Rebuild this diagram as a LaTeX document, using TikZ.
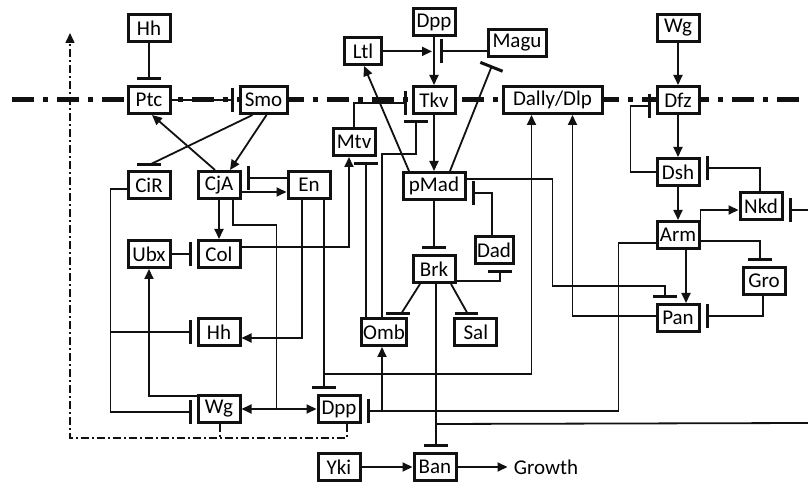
\documentclass[tikz,border=0pt]{standalone}
\usepackage{fontspec}
\setmainfont{Carlito}
\usepackage{tikz}
\usetikzlibrary{positioning,arrows.meta,calc}
\definecolor{ink}{HTML}{111111}
\tikzset{
  gene/.style={draw=ink, fill=white, line width=1.5pt, inner xsep=1pt, inner ysep=1pt,
               minimum width=21pt, minimum height=13.5pt, font=\fontsize{10.5}{12}\selectfont},
  outp/.style={font=\fontsize{10.5}{12}\selectfont, inner sep=3pt},
  act/.style={-{Triangle[length=5pt,width=4.5pt]}, line width=0.9pt, color=ink},
  inh/.style={-{Bar[width=12pt,line width=1.5pt]}, line width=0.9pt, color=ink, shorten >=2.5pt},
  lnk/.style={line width=0.9pt, color=ink},
  tbar/.style={line width=1.5pt, color=ink},
  memb/.style={line width=2.5pt, color=ink, dash pattern=on 11pt off 4.5pt on 2.5pt off 4.5pt},
  fbk/.style={line width=0.7pt, color=ink, dash pattern=on 4pt off 1.5pt on 1pt off 1.5pt},
}

\begin{document}
\begin{tikzpicture}[x=0.5pt, y=-0.5pt]
\path[fill=white] (0,0) rectangle (808,485);
\useasboundingbox (0,0) rectangle (808,485);

% --- membrane ---
\coordinate (membW) at (12,100);
\coordinate (membE) at (808,100);
\draw[memb] (membW) -- (membE);

% --- Hh / Ci side ---
\node[gene] (ptc) at (149,100) {Ptc};
\node[gene] (hhA) [above=21pt of ptc] {Hh};
\node[gene, minimum width=23.5pt] (smo) [right=33.5pt of ptc] {Smo};
\node[gene] (cir) [below=27.5pt of ptc] {CiR};
\node[gene] (cja) [right=12.5pt of cir] {CjA};
\node[gene] (en)  [right=22.5pt of cja] {En};
\node[gene] (ubx) [below=19.5pt of cir] {Ubx};
\node[gene] (col) [right=12.5pt of ubx] {Col};
\node[gene] (hhB) [below=24pt of col] {Hh};
\node[gene] (wgB) [below=23.5pt of hhB] {Wg};
\node[gene] (dppB) [right=37.5pt of wgB] {Dpp};
\node[gene] (yki) [below=14pt of dppB] {Yki};
\node[gene] (ban) [right=25.5pt of yki] {Ban};
\node[outp] (growth) [right=25pt of ban] {Growth};

% --- Dpp side ---
\node[gene] (tkv) at (434,100) {Tkv};
\node[gene] (dppA) [above=24pt of tkv] {Dpp};
\node[gene, minimum width=18.5pt] (ltl) at (363,51) {Ltl};
\node[gene, minimum width=29pt] (magu) at (517,43) {Magu};
\node[gene, minimum width=49.5pt] (dally) [right=22.5pt of tkv] {Dally/Dlp};
\node[gene] (mtv) at (354,142) {Mtv};
\node[gene, minimum width=31pt] (pmad) [below=28pt of tkv] {pMad};
\node[gene] (brk) [below=26.5pt of pmad] {Brk};
\node[gene, minimum width=18pt] (dad) at (494,250) {Dad};
\node[gene] (omb) at (384,332) {Omb};
\node[gene] (sal) [right=22.5pt of omb] {Sal};

% --- Wg side ---
\node[gene] (dfz) at (678,100) {Dfz};
\node[gene] (wgA) [above=21pt of dfz] {Wg};
\node[gene] (dsh) [below=21pt of dfz] {Dsh};
\node[gene] (arm) [below=16.5pt of dsh] {Arm};
\node[gene] (pan) [below=26.5pt of arm] {Pan};
\node[gene] (nkd) at (761,206) {Nkd};
\node[gene] (gro) at (764,281) {Gro};

% Hh signalling
\draw[inh] (hhA) -- (ptc);
\draw[inh] (ptc) -- (smo);
\draw[act] ($(smo.south)+(3,0)$) -- ($(cja.north)+(11,0)$);
\draw[lnk] ($(smo.south)+(-11,0)$) -- ($(cir.north)+(0,-5)$);
\draw[tbar] ($(cir.north)+(-12,-5)$) -- ++(24,0);
\draw[act] ($(cja.north)+(-4,0)$) -- ($(ptc.south)+(3,0)$);

% Ci targets
\draw[act] (cja) -- (col);
\draw[inh] ($(en.west)+(0,-7)$) -- ($(cja.east)+(0,-7)$);
\draw[act] ($(cja.east)+(0,7)$) -- ($(en.west)+(0,7)$);
\draw[inh] (ubx) -- (col);
\draw[act] ($(col.east)+(0,-7)$) -| ($(mtv.south)+(-5,0)$);
\draw[act] ($(en.south)+(-7,0)$) |- ($(hhB.east)+(0,6)$);
\draw[inh] ($(en.south)+(15,0)$) -- ($(dppB.north)+(-15,0)$);
\draw[act] ($(en.south)+(15,174)$) -| ($(dally.south)+(-21,0)$);
\draw[inh] ($(cir.west)+(0,4)$) -- ++(-16,0) |- ($(wgB.west)+(0,3)$);
\draw[inh] ($(cir.west)+(-16,4)$) |- (hhB.west);
\draw[act] ($(wgB.west)+(0,-13)$) -| (ubx.south);
\coordinate (cjaj) at ($(wgB.east)+(35,0)$);
\draw[lnk] ($(cja.south)+(14,0)$) -- ++(0,25) -| (cjaj);
\draw[act] (cjaj) -- (wgB.east);
\draw[act] (cjaj) -- (dppB.west);

% feedback
\coordinate (fbtop) at (70,33);
\draw[fbk] ($(wgB.south)+(1,0)$) -- ++(0,14);
\draw[fbk, -{Triangle[length=5pt,width=4.5pt]}] ($(dppB.south)+(8,0)$) -- ++(0,14) -| (fbtop);

% Dpp signalling
\coordinate (ligand) at ($(dppA.south)!0.3!(tkv.north)$);
\draw[act] (dppA) -- (tkv);
\draw[act, shorten >=1pt] (ltl.east |- ligand) -- (ligand);
\draw[inh, shorten >=0pt] (magu.west |- ligand) -- ($(ligand)+(6,0)$);
\draw[act] (tkv.south) -- (tkv.south |- pmad.north);
\draw[act] ($(pmad.north)+(-25,0)$) -- ($(ltl.south)+(1,0)$);
\draw[inh, shorten >=4pt] ($(pmad.north)+(16,0)$) -- ($(magu.south)+(-22,0)$);
\draw[inh] (mtv.north) |- ($(tkv.west)+(0,3)$);
\draw[inh] (pmad) -- (brk);
\draw[inh] ($(dad.north)+(-2,0)$) |- ($(pmad.east)+(0,7)$);
\draw[inh] ($(brk.east)+(0,12)$) -| ($(dad.south)+(6,0)$);
\draw[inh] ($(pmad.east)+(0,-7)$) -- ++(86,0) |- ($(pan.north)+(-13,-17)$) -- ($(pan.north)+(-13,0)$);

% Omb / Sal
\draw[inh] ($(omb.north)+(-18,0)$) -- ($(mtv.south)+(12,0)$);
\draw[inh] ($(omb.north)+(-2,0)$) |- ($(tkv.south)+(-18,39)$) -- ($(tkv.south)+(-18,0)$);
\draw[lnk] ($(brk.south)+(-14,0)$) -- ($(omb.north)+(17,-3)$);
\draw[tbar] ($(omb.north)+(2,-3)$) -- ++(24,0);
\draw[lnk] ($(brk.south)+(17,0)$) -- ($(sal.north)+(-8,-3)$);
\draw[tbar] ($(sal.north)+(-21,-3)$) -- ++(23,0);
\draw[inh] ($(arm.west)+(0,8)$) -- ++(-37,0) |- ($(dppB.east)+(0,2)$);
\draw[act] ($(omb.south |- dppB.east)+(-2,2)$) -- ($(omb.south)+(-2,0)$);
\draw[act] ($(pan.west)+(0,-2)$) -| ($(dally.south)+(20,0)$);

% growth
\coordinate (eastB) at (808,423);
\draw[inh] ($(brk.south)+(2,0)$) -- ($(ban.north)+(1,0)$);
\draw[lnk] (eastB) -- ($(ban.north)+(1,-28)$);
\draw[act] (yki) -- (ban);
\draw[act] (ban) -- (growth);

% Wg signalling
\coordinate (eastA) at (808,210);
\draw[act] (wgA) -- (dfz);
\draw[act] (dfz) -- (dsh);
\draw[act] (dsh) -- (arm);
\draw[inh] (dsh.west) -- ++(-25,0) |- ($(dfz.west)+(0,6)$);
\draw[inh] ($(nkd.north)+(-1,0)$) |- ($(dsh.east)+(0,-4)$);
\draw[act] (arm.north east) |- ($(nkd.west)+(0,4)$);
\draw[inh] ($(arm.east)+(0,6)$) -| ($(gro.north)+(-4,0)$);
\draw[act] ($(arm.south)+(8,0)$) -- ($(pan.north)+(8,0)$);
\draw[inh] ($(gro.south)+(-1,0)$) |- ($(pan.east)+(0,-2)$);
\draw[inh] (eastA) -- ($(nkd.east)+(0,4)$);

\end{tikzpicture}
\end{document}
